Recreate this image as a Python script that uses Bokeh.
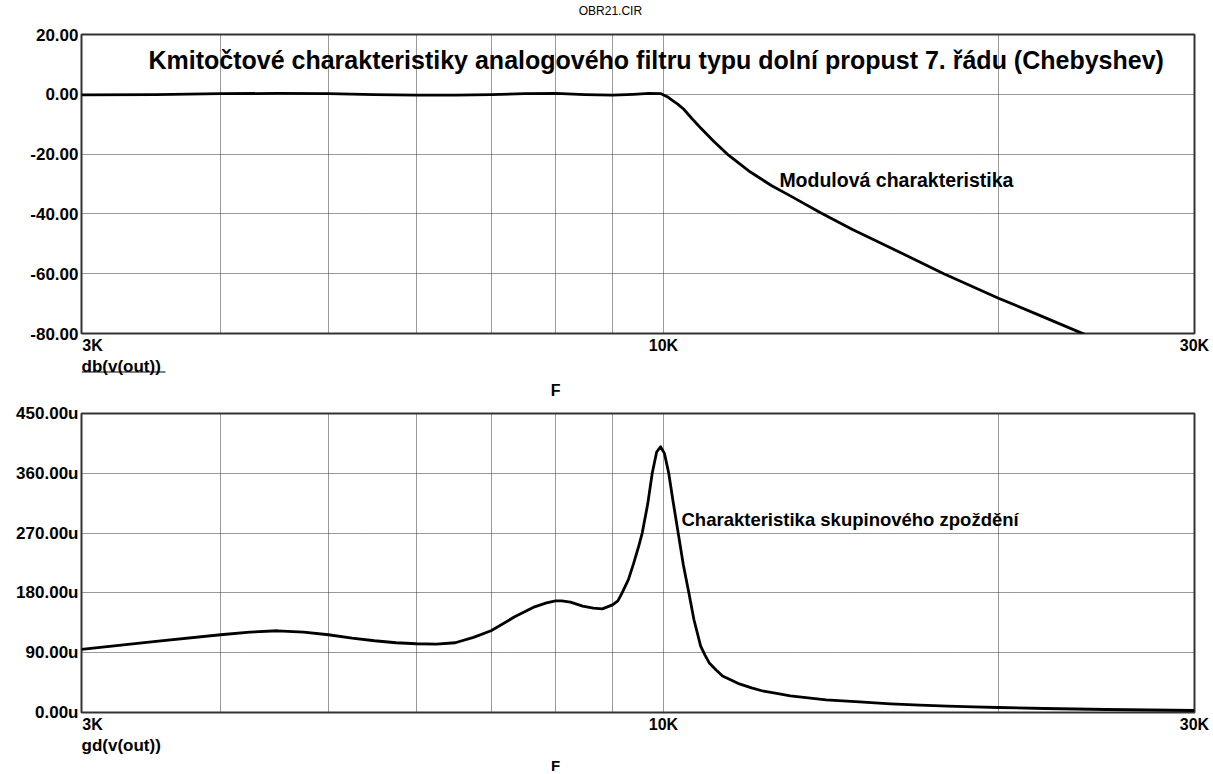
from bokeh.plotting import figure
from bokeh.models import Label, FixedTicker, Range1d
from bokeh.layouts import column
from bokeh.embed import file_html
from bokeh.resources import INLINE

# ---- data ----
mag_freq_khz = [3.0, 3.5, 4.0, 4.5, 5.0, 5.5, 6.0, 6.5, 7.0, 7.5, 8.0, 8.5, 9.0, 9.4, 9.7, 9.95,
                10.1, 10.2, 10.3, 10.43, 10.6, 10.79, 11.1, 11.41, 11.97, 12.5, 13.05, 13.84,
                14.8, 15.89, 17.86, 20.0, 21.67, 23.9]
mag_db = [-0.2, -0.1, 0.2, 0.3, 0.2, -0.1, -0.3, -0.3, -0.1, 0.2, 0.3, -0.1, -0.3, 0.0, 0.3, 0.2,
          -1.0, -2.2, -3.3, -5.0, -8.0, -11.1, -15.8, -20.0, -26.0, -30.5, -34.3, -39.6,
          -45.3, -50.8, -60.0, -68.2, -73.6, -80.3]

gd_freq_khz = [3.0, 3.5, 4.0, 4.25, 4.5, 4.75, 5.0, 5.25, 5.5, 5.75, 6.0, 6.25, 6.5, 6.75, 7.0,
               7.35, 7.66, 7.85, 8.0, 8.1, 8.25, 8.46, 8.65, 8.81, 9.0, 9.1, 9.18, 9.3, 9.4, 9.5,
               9.57, 9.68, 9.77, 9.86, 9.94, 10.02, 10.11, 10.2, 10.31, 10.42, 10.54, 10.65, 10.8,
               10.9, 11.0, 11.15, 11.3, 11.5, 11.7, 12.0, 12.3, 12.6, 13.0, 14.0, 15.0, 16.0,
               17.0, 18.0, 19.0, 20.0, 22.0, 25.0, 30.0]
gd_us = [95, 107, 117, 121, 123, 121, 117, 112, 108, 105, 103.5, 103, 105, 113, 123,
         144, 159, 165, 168, 168, 166, 160, 157, 156, 162, 168, 180, 200, 224, 250,
         270, 314, 360, 392, 400, 390, 360, 318, 270, 222, 180, 140, 100,
         86, 74, 64, 55, 49, 43, 37, 32, 29, 25, 19, 16, 13,
         11, 9.5, 8.5, 7.5, 6, 4.5, 3]

x_ticks_hz = [3000, 10000, 30000]
x_tick_labels = ["3K", "10K", "30K"]
x_grid_hz = [4000, 5000, 6000, 7000, 8000, 9000, 10000, 20000]

mag_ticks = [20, 0, -20, -40, -60, -80]
mag_tick_labels = ["20.00", "0.00", "-20.00", "-40.00", "-60.00", "-80.00"]
gd_ticks = [450, 360, 270, 180, 90, 0]
gd_tick_labels = ["450.00u", "360.00u", "270.00u", "180.00u", "90.00u", "0.00u"]

FONT = "Liberation Sans"
W = 1213
LEFT, RIGHT = 81, 19            # frame borders in px
FRAME_W = W - LEFT - RIGHT      # px per decade of frequency
F0, F1 = 3000, 30000
# the first frequency label starts at the left frame edge instead of being centred on it
FIRST_LABEL_SHIFT_PX = 11
# width of the underline below the selected trace name
UNDERLINE_PX = 84


def make_fig(height, top, bottom, y0, y1, ticks, labels):
    p = figure(width=W, height=height, x_axis_type="log",
               x_range=Range1d(F0, F1), y_range=Range1d(y0, y1),
               output_backend="svg", toolbar_location=None,
               min_border_left=LEFT, min_border_right=RIGHT,
               min_border_top=top, min_border_bottom=bottom)
    p.title.visible = False
    p.background_fill_color = "white"
    p.border_fill_color = "white"
    p.outline_line_color = "#333333"
    p.outline_line_width = 2
    p.xgrid.ticker = FixedTicker(ticks=x_grid_hz)
    p.ygrid.ticker = FixedTicker(ticks=[t for t in ticks if t not in (y0, y1)])
    for g in (p.xgrid, p.ygrid):
        g.grid_line_color = "#333333"
        g.grid_line_dash = "1 1"
        g.grid_line_width = 1

    ay = p.yaxis[0]
    ay.ticker = FixedTicker(ticks=ticks)
    ay.major_label_overrides = {t: l for t, l in zip(ticks, labels)}
    ay.major_label_standoff = 3
    ay.major_label_text_font_size = "17px"

    ax = p.xaxis[0]
    xt = [t * 10 ** (FIRST_LABEL_SHIFT_PX / FRAME_W) if t == F0 else t for t in x_ticks_hz]
    ax.ticker = FixedTicker(ticks=xt)
    ax.major_label_overrides = {t: l for t, l in zip(xt, x_tick_labels)}
    ax.major_label_standoff = 3
    ax.major_label_text_font_size = "16px"

    for a in (ax, ay):
        a.axis_line_color = None
        a.major_tick_line_color = None
        a.minor_tick_line_color = None
        a.major_tick_out = 0
        a.major_tick_in = 0
        a.major_label_text_font = FONT
        a.major_label_text_font_style = "bold"
        a.major_label_text_color = "black"
    return p


def strip(height):
    s = figure(width=W, height=height, x_axis_type="log",
               x_range=Range1d(F0, F1), y_range=Range1d(height, 0),
               output_backend="svg", toolbar_location=None,
               min_border_left=LEFT, min_border_right=RIGHT,
               min_border_top=0, min_border_bottom=0)
    s.title.visible = False
    s.xaxis.visible = False
    s.yaxis.visible = False
    s.xgrid.visible = False
    s.ygrid.visible = False
    s.outline_line_color = None
    s.background_fill_color = "white"
    s.border_fill_color = "white"
    return s


def lab(p, x, y, text, size, align="left", bold=True):
    p.add_layout(Label(x=x, y=y, text=text, text_font=FONT,
                       text_font_style="bold" if bold else "normal",
                       text_font_size=size, text_align=align,
                       text_baseline="middle", text_color="black"))


# ---------- header strip ----------
s0 = strip(22)
lab(s0, 8960, 10, "OBR21.CIR", "12px", "center", bold=False)

# ---------- top: magnitude ----------
p1 = make_fig(334, 12, 22, -80, 20, mag_ticks, mag_tick_labels)
p1.line([f * 1000 for f in mag_freq_khz], mag_db, line_color="black", line_width=2.8,
        line_join="round")
lab(p1, 9850, 20 - 26 / 3.0,
    "Kmitočtové charakteristiky analogového filtru typu dolní propust 7. řádu (Chebyshev)",
    "25px", "center")
lab(p1, 12710, -28.6, "Modulová charakteristika", "19.5px")

s1 = strip(44)
lab(s1, F0, 10, "db(v(out))", "17px")
s1.segment(x0=[F0], y0=[15.5], x1=[F0 * 10 ** (UNDERLINE_PX / FRAME_W)], y1=[15.5],
           line_color="black", line_width=1.2)
lab(s1, 8000, 34, "F", "16px", "center")

# ---------- bottom: group delay ----------
p2 = make_fig(335, 13, 22, 0, 450, gd_ticks, gd_tick_labels)
p2.line([f * 1000 for f in gd_freq_khz], gd_us, line_color="black", line_width=2.8,
        line_join="round")
lab(p2, 10380, 290, "Charakteristika skupinového zpoždění", "18.5px")

s2 = strip(39)
lab(s2, F0, 10, "gd(v(out))", "17px")
lab(s2, 8000, 30, "F", "15px", "center")

page = column(s0, p1, s1, p2, s2, spacing=0)
open("out.html", "w").write(file_html(page, INLINE))
